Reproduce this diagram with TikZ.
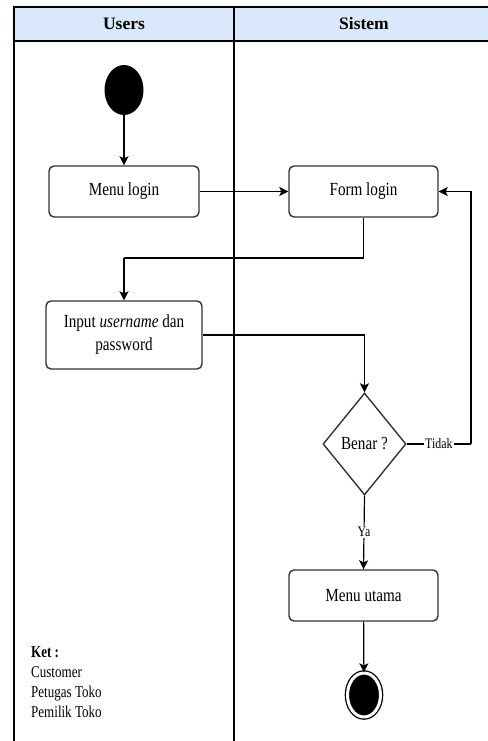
\documentclass[tikz,border=0pt]{standalone}
\usepackage{fontspec}
\setmainfont{Liberation Serif}
\newfontfamily\cnd[FakeStretch=0.82]{Liberation Serif}
\newfontfamily\cndk[FakeStretch=0.79]{Liberation Serif}
\usetikzlibrary{shapes.geometric,arrows.meta}
\definecolor{hdr}{HTML}{DAE8FC}
\definecolor{boxline}{HTML}{333333}
\tikzset{
  lane/.style={line width=1.3pt,draw=black},
  actbox/.style={draw=boxline,line width=1.4pt,rounded corners=5pt,fill=white,align=center,font=\cnd\fontsize{18.5}{23}\selectfont,inner sep=0pt},
  decbox/.style={draw=boxline,line width=1.4pt,diamond,fill=white,inner sep=0pt,font=\cnd\fontsize{18.5}{23}\selectfont,minimum width=83pt,minimum height=102pt},
  arr/.style={line width=1.2pt,-{Stealth[length=9pt,width=9pt,inset=2pt]}},
  lnk/.style={line width=1.2pt},
  small/.style={font=\cnd\fontsize{14.5}{16}\selectfont,fill=white,inner sep=1pt},
  hdrtext/.style={font=\bfseries\fontsize{17.5}{20}\selectfont}
}
\begin{document}
\begin{tikzpicture}[x=1pt,y=-1pt]
\useasboundingbox (0,0) rectangle (487,741);
% swimlane table
\fill[hdr] (14,7) rectangle (490,41);
\draw[lane] (490,7) -- (14,7) -- (14,745);
\draw[lane] (14,41) -- (490,41);
\draw[lane] (234,7) -- (234,745);
\node[hdrtext] (husers) at (124,24) {Users};
\node[hdrtext] (hsistem) at (364,24) {Sistem};
% nodes
\node[ellipse,fill=black,minimum width=39pt,minimum height=50pt,inner sep=0pt] (start) at (124,90) {};
\node[actbox,minimum width=150pt,minimum height=51pt] (menulogin) at (124,191.5) {Menu login};
\node[actbox,minimum width=149pt,minimum height=51pt] (formlogin) at (363.5,191.5) {Form login};
\node[actbox,minimum width=156pt,minimum height=68pt] (input) at (124,335) {Input \textit{username} dan\\password};
\node[decbox] (dec) at (364.5,444) {Benar ?};
\node[actbox,minimum width=149pt,minimum height=51pt] (menuutama) at (363.5,595.5) {Menu utama};
\node[ellipse,fill=black,draw=black,double=white,double distance=3pt,line width=1.3pt,minimum width=33pt,minimum height=44pt,inner sep=0pt] (end) at (364,695) {};
\coordinate (k1) at (124,258);
\coordinate (k2) at (471,444);
% connectors
\draw[arr] (start) -- (menulogin);
\draw[arr] (menulogin) -- (formlogin);
\draw[lnk] (formlogin.south) |- (k1);
\draw[arr] (k1) -- (input.north);
\draw[arr] (input.east) -| (dec.north);
\draw[lnk] (dec.east) -- node[small] (tidak) {Tidak} (k2);
\draw[arr] (k2) |- (formlogin.east);
\draw[arr] (dec.south) -- node[small,pos=0.49] (ya) {Ya} (menuutama.north);
\draw[arr] (menuutama) -- (end);
% legend
\node[anchor=north west,align=left,inner sep=0pt,font=\cndk\fontsize{16.5}{20.3}\selectfont] (ket) at (31,646) {\textbf{Ket :}\\Customer\\Petugas Toko\\Pemilik Toko};
\end{tikzpicture}
\end{document}
